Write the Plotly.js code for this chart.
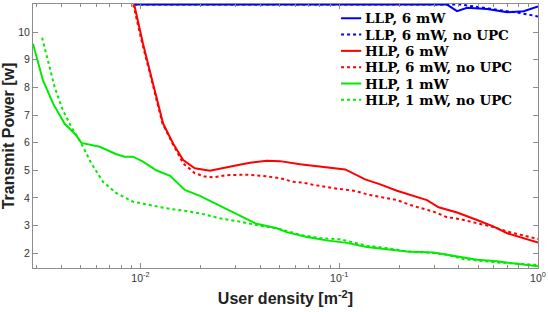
<!DOCTYPE html>
<html>
<head>
<meta charset="utf-8">
<script src="https://cdn.plot.ly/plotly-3.0.1.min.js"></script>
<style>html,body{margin:0;padding:0;background:#fff;}#chart{width:548px;height:312px;}</style>
</head>
<body>
<div id="chart"></div>
<script>
// LLP, 6 mW
var llpX = [0.0093, 0.3485, 0.3915, 0.4397, 0.5545, 0.6993, 0.8476, 1.0];
var llpY = [11.0, 11.0, 10.76, 10.88, 10.84, 10.72, 10.76, 10.93];
// LLP, 6 mW, no UPC
var llpNoX = [0.0093, 0.3485, 0.4066, 0.5129, 0.6472, 0.8163, 1.0];
var llpNoY = [11.0, 11.0, 11.0, 10.9, 10.8, 10.69, 10.57];
// HLP, 6 mW
var hlp6X = [0.0093, 0.0103, 0.01156, 0.0130, 0.01459, 0.0164, 0.01878, 0.02109, 0.02234, 0.0293, 0.03556, 0.04316, 0.05036, 0.06352, 0.07708, 0.0935, 0.1071, 0.1351, 0.1608, 0.1952, 0.2366, 0.2764, 0.3163, 0.3915, 0.4939, 0.5986, 0.6993, 0.8476, 1.0];
var hlp6Y = [11.0, 9.58, 8.14, 6.69, 5.97, 5.37, 5.07, 5.01, 4.98, 5.15, 5.27, 5.34, 5.33, 5.22, 5.15, 5.10, 5.03, 4.67, 4.49, 4.26, 4.07, 3.92, 3.66, 3.47, 3.20, 2.96, 2.72, 2.54, 2.38];
// HLP, 6 mW, no UPC
var hlp6NoX = [0.0092, 0.0102, 0.0115, 0.0129, 0.0145, 0.0164, 0.01878, 0.02109, 0.02322, 0.02712, 0.03421, 0.0432, 0.05036, 0.05876, 0.06601, 0.07413, 0.0935, 0.1092, 0.1180, 0.1432, 0.1952, 0.2278, 0.2985, 0.3485, 0.4066, 0.4939, 0.5986, 0.6993, 0.8476, 1.0];
var hlp6NoY = [11.0, 9.6, 8.14, 6.69, 5.97, 5.25, 4.89, 4.77, 4.74, 4.82, 4.84, 4.78, 4.71, 4.58, 4.55, 4.47, 4.35, 4.28, 4.26, 4.10, 3.92, 3.74, 3.50, 3.30, 3.23, 3.08, 2.94, 2.78, 2.62, 2.51];
// HLP, 1 mW
var hlp1X = [0.00288, 0.00323, 0.00363, 0.00415, 0.00475, 0.00504, 0.00624, 0.00757, 0.00832, 0.00918, 0.0103, 0.0120, 0.0141, 0.0167, 0.0199, 0.0251, 0.0316, 0.0384, 0.0485, 0.0544, 0.0687, 0.0865, 0.1092, 0.1377, 0.1738, 0.2193, 0.2985, 0.3485, 0.4227, 0.4939, 0.6225, 0.8163, 1.0];
var hlp1Y = [9.58, 8.26, 7.42, 6.69, 6.27, 5.99, 5.85, 5.58, 5.49, 5.49, 5.31, 5.00, 4.80, 4.29, 4.07, 3.71, 3.35, 3.06, 2.90, 2.76, 2.58, 2.46, 2.37, 2.22, 2.14, 2.06, 2.02, 1.94, 1.82, 1.76, 1.70, 1.61, 1.52];
// HLP, 1 mW, no UPC
var hlp1NoX = [0.0032, 0.00342, 0.0037, 0.00407, 0.00449, 0.00504, 0.00566, 0.00648, 0.00757, 0.00918, 0.0112, 0.0135, 0.0164, 0.0199, 0.0251, 0.0316, 0.0399, 0.0504, 0.0635, 0.0801, 0.1011, 0.1377, 0.1738, 0.2193, 0.2985, 0.3485, 0.4227, 0.6225, 0.8163, 1.0];
var hlp1NoY = [9.80, 8.98, 8.01, 7.17, 6.57, 5.97, 5.25, 4.58, 4.17, 3.86, 3.74, 3.62, 3.54, 3.44, 3.26, 3.14, 2.99, 2.87, 2.66, 2.54, 2.50, 2.27, 2.18, 2.06, 2.00, 1.94, 1.78, 1.66, 1.61, 1.57];

var seriesNames = ['LLP, 6 mW', 'LLP, 6 mW, no UPC', 'HLP, 6 mW', 'HLP, 6 mW, no UPC', 'HLP, 1 mW', 'HLP, 1 mW, no UPC'];
var xTickVals = [0.01, 0.1, 1];
var xTickText = ['10<sup>-2</sup>', '10<sup>-1</sup>', '10<sup>0</sup>'];
var yTickVals = [2, 3, 4, 5, 6, 7, 8, 9, 10];

var BLUE = 'rgb(0,0,255)', RED = 'rgb(255,0,0)', GREEN = 'rgb(0,235,0)';
var colors = [BLUE, BLUE, RED, RED, GREEN, GREEN];
var dashes = ['solid', 'dot', 'solid', 'dot', 'solid', 'dot'];
var xs = [llpX, llpNoX, hlp6X, hlp6NoX, hlp1X, hlp1NoX];
var ys = [llpY, llpNoY, hlp6Y, hlp6NoY, hlp1Y, hlp1NoY];

var data = [];
for (var i = 0; i < 6; i++) {
  data.push({x: xs[i], y: ys[i], name: seriesNames[i], type: 'scatter', mode: 'lines',
             line: {color: colors[i], width: 2, dash: dashes[i]}});
}

// manual legend (paper coordinates)
var shapes = [], annotations = [];
var legRowY0 = 0.946, legRowStep = 0.0618;
for (var j = 0; j < 6; j++) {
  var yy = legRowY0 - j * legRowStep;
  shapes.push({type: 'line', xref: 'paper', yref: 'paper', x0: 0.610, x1: 0.650, y0: yy, y1: yy,
               line: {color: colors[j], width: 2, dash: dashes[j]}});
  annotations.push({xref: 'paper', yref: 'paper', x: 0.654, y: yy, xanchor: 'left', yanchor: 'middle',
                    showarrow: false, text: seriesNames[j],
                    font: {family: 'DejaVu Serif', size: 13.5, color: '#000', weight: 'bold'}});
}

var axisColor = '#8c8c8c';
var layout = {
  width: 548, height: 312,
  margin: {l: 33, r: 10, t: 4, b: 44},
  paper_bgcolor: '#fff', plot_bgcolor: '#fff',
  showlegend: false,
  shapes: shapes, annotations: annotations,
  xaxis: {type: 'log', range: [Math.log10(0.00288), 0], showgrid: false, zeroline: false,
          showline: true, linecolor: axisColor, linewidth: 1, mirror: 'ticks',
          ticks: 'inside', ticklen: 5, tickcolor: axisColor,
          tickvals: xTickVals, ticktext: xTickText,
          tickfont: {family: 'Liberation Sans', size: 10.5, color: '#333'},
          minor: {ticks: 'inside', ticklen: 3, tickcolor: axisColor, dtick: 'D1', showgrid: false},
          title: {text: 'User density [m<sup>-2</sup>]', standoff: 10,
                  font: {family: 'Liberation Sans', size: 16, color: '#222', weight: 'bold'}}},
  yaxis: {range: [1.46, 11.02], showgrid: false, zeroline: false,
          showline: true, linecolor: axisColor, linewidth: 1, mirror: 'ticks',
          ticks: 'inside', ticklen: 5, tickcolor: axisColor,
          tickvals: yTickVals,
          tickfont: {family: 'Liberation Sans', size: 10.5, color: '#333'},
          title: {text: 'Transmit Power [w]', standoff: 0,
                  font: {family: 'Liberation Sans', size: 16, color: '#222', weight: 'bold'}}}
};
Plotly.newPlot('chart', data, layout, {displayModeBar: false, staticPlot: true});
</script>
</body>
</html>
